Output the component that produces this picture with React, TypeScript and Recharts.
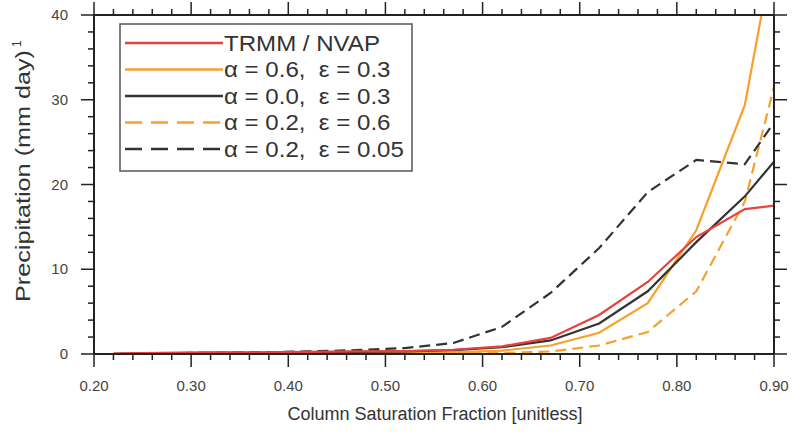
import { LineChart, Line, XAxis, YAxis } from "recharts"

// column saturation fraction (bin centres)
const saturation = [0.22, 0.27, 0.32, 0.37, 0.42, 0.47, 0.52, 0.57, 0.62, 0.67, 0.72, 0.77, 0.82, 0.87, 0.9]

// precipitation, mm/day
const trmmNvap = [0.05, 0.15, 0.2, 0.2, 0.25, 0.3, 0.35, 0.5, 0.9, 1.9, 4.6, 8.5, 13.8, 17.1, 17.5]
const a06e03 = [0, 0.02, 0.05, 0.05, 0.08, 0.1, 0.15, 0.2, 0.4, 1.0, 2.5, 6.0, 14.6, 29.4, 48]
const a00e03 = [0.02, 0.1, 0.15, 0.15, 0.2, 0.25, 0.3, 0.45, 0.8, 1.6, 3.6, 7.4, 13.2, 18.6, 22.7]
const a02e06 = [0, 0, 0.02, 0.02, 0.03, 0.05, 0.05, 0.08, 0.12, 0.3, 1.0, 2.6, 7.4, 18, 31.5]
const a02e005 = [0, 0.1, 0.15, 0.2, 0.3, 0.45, 0.7, 1.3, 3.2, 7.2, 12.5, 19.1, 22.9, 22.4, 27.3]

const xMajor = [0.2, 0.3, 0.4, 0.5, 0.6, 0.7, 0.8, 0.9]
const yMajor = [0, 10, 20, 30, 40]

const RED = "#e8423b"
const ORANGE = "#f6a12c"
const DARK = "#333333"
const AXIS = "#222222"
const FONT = "'Liberation Sans', Arial, sans-serif"

// plot box, set by the axis sizes below
const W = 792
const H = 434
const LEFT = 94
const RIGHT_W = 18
const TOP = 15
const BOTTOM_H = 80
const X_DOMAIN = [0.2, 0.9]
const Y_DOMAIN = [0, 40]

// minor ticks every 0.02 / 2 units
const xTicks: number[] = []
for (let i = 0; i <= 35; i++) xTicks.push(Number((0.2 + i * 0.02).toFixed(2)))
const yTicks: number[] = []
for (let i = 0; i <= 20; i++) yTicks.push(i * 2)

const series = [
  { key: "a02e06", name: "α = 0.2,  ε = 0.6", values: a02e06, color: ORANGE, dash: "11 6" },
  { key: "a06e03", name: "α = 0.6,  ε = 0.3", values: a06e03, color: ORANGE, dash: undefined },
  { key: "a02e005", name: "α = 0.2,  ε = 0.05", values: a02e005, color: DARK, dash: "11 6" },
  { key: "a00e03", name: "α = 0.0,  ε = 0.3", values: a00e03, color: DARK, dash: undefined },
  { key: "trmm", name: "TRMM / NVAP", values: trmmNvap, color: RED, dash: undefined },
]
const legendOrder = ["trmm", "a06e03", "a00e03", "a02e06", "a02e005"]

const data = saturation.map((x, i) => {
  const row: Record<string, number> = { x }
  series.forEach((s) => (row[s.key] = s.values[i]))
  return row
})

const isMajor = (list: number[], v: number) => list.some((m) => Math.abs(m - v) < 1e-6)

function BottomLabel(props: any) {
  const { x, y, payload } = props
  const v = Number(payload.value)
  if (!isMajor(xMajor, v)) return <g />
  return (
    <text x={x} y={y + 37} textAnchor="middle" fontSize={15} fontFamily={FONT} fill="#444">
      {v.toFixed(2)}
    </text>
  )
}

function LeftLabel(props: any) {
  const { x, y, payload } = props
  const v = Number(payload.value)
  if (!isMajor(yMajor, v)) return <g />
  return (
    <text x={x - 26} y={y + 5} textAnchor="end" fontSize={15} fontFamily={FONT} fill="#444">
      {v}
    </text>
  )
}

// tick marks on all four sides of the frame, plus titles and legend
function Overlay() {
  const plotR = W - RIGHT_W
  const plotB = H - BOTTOM_H
  const sx = (v: number) => LEFT + ((v - X_DOMAIN[0]) / (X_DOMAIN[1] - X_DOMAIN[0])) * (plotR - LEFT)
  const sy = (v: number) => plotB - ((v - Y_DOMAIN[0]) / (Y_DOMAIN[1] - Y_DOMAIN[0])) * (plotB - TOP)
  const rows = legendOrder.map((k) => series.find((s) => s.key === k)!)
  const tk = { stroke: AXIS, strokeWidth: 1.5 }
  return (
    <svg width={W} height={H} style={{ position: "absolute", left: 0, top: 0, pointerEvents: "none" }}>
      {xTicks.map((v) => {
        const len = isMajor(xMajor, v) ? 13 : 6
        const x = sx(v)
        return (
          <g key={"x" + v}>
            <line x1={x} x2={x} y1={plotB} y2={plotB + len} {...tk} />
            <line x1={x} x2={x} y1={TOP} y2={TOP - len} {...tk} />
          </g>
        )
      })}
      {yTicks.map((v) => {
        const len = isMajor(yMajor, v) ? 13 : 6
        const y = sy(v)
        return (
          <g key={"y" + v}>
            <line x1={LEFT} x2={LEFT - len} y1={y} y2={y} {...tk} />
            <line x1={plotR} x2={plotR + len} y1={y} y2={y} {...tk} />
          </g>
        )
      })}
      <text x={435} y={420} textAnchor="middle" fontSize={18} fontFamily={FONT} fill="#333">
        Column Saturation Fraction [unitless]
      </text>
      <g transform="translate(30,302) rotate(-90)">
        <text x={0} y={0} fontSize={20} fontFamily={FONT} fill="#333" textLength={252} lengthAdjust="spacingAndGlyphs">
          Precipitation (mm day)
        </text>
        <text x={255} y={-9} fontSize={12} fontFamily={FONT} fill="#333">
          1
        </text>
      </g>
      <g transform="translate(119,23)">
        <rect x={1} y={1} width={292} height={147} fill="#fff" stroke="#555" strokeWidth={1.5} />
        {rows.map((s, i) => {
          const cy = 20 + i * 26.5
          return (
            <g key={s.key}>
              <line x1={6} x2={104} y1={cy} y2={cy} stroke={s.color} strokeWidth={2.5} strokeDasharray={s.dash ? "17 9" : undefined} />
              <text
                transform={`translate(105,${cy}) scale(1.12,1)`}
                dominantBaseline="central"
                fontSize={21.5}
                fontFamily={FONT}
                fill="#333"
                style={{ whiteSpace: "pre" }}
              >
                {s.name}
              </text>
            </g>
          )
        })}
      </g>
    </svg>
  )
}

export default function App() {
  return (
    <div style={{ position: "absolute", left: 0, top: 0, width: W, height: H }}>
      <LineChart width={W} height={H} data={data} margin={{ top: 0, right: 0, bottom: 0, left: 0 }}>
        <XAxis
          dataKey="x"
          type="number"
          domain={X_DOMAIN}
          ticks={xTicks}
          interval={0}
          tickSize={0}
          tickMargin={0}
          tickLine={false}
          tick={<BottomLabel />}
          axisLine={{ stroke: AXIS, strokeWidth: 2 }}
          height={BOTTOM_H}
        />
        <XAxis
          xAxisId="top"
          orientation="top"
          dataKey="x"
          type="number"
          domain={X_DOMAIN}
          tick={false}
          tickLine={false}
          axisLine={{ stroke: AXIS, strokeWidth: 2 }}
          height={TOP}
        />
        <YAxis
          type="number"
          domain={Y_DOMAIN}
          allowDataOverflow
          ticks={yTicks}
          interval={0}
          tickSize={0}
          tickMargin={0}
          tickLine={false}
          tick={<LeftLabel />}
          axisLine={{ stroke: AXIS, strokeWidth: 2 }}
          width={LEFT}
        />
        <YAxis
          yAxisId="right"
          orientation="right"
          type="number"
          domain={Y_DOMAIN}
          tick={false}
          tickLine={false}
          axisLine={{ stroke: AXIS, strokeWidth: 2 }}
          width={RIGHT_W}
        />
        {series.map((s) => (
          <Line
            key={s.key}
            dataKey={s.key}
            name={s.name}
            type="linear"
            stroke={s.color}
            strokeWidth={2.2}
            strokeDasharray={s.dash}
            dot={false}
            activeDot={false}
            isAnimationActive={false}
          />
        ))}
      </LineChart>
      <Overlay />
    </div>
  )
}
